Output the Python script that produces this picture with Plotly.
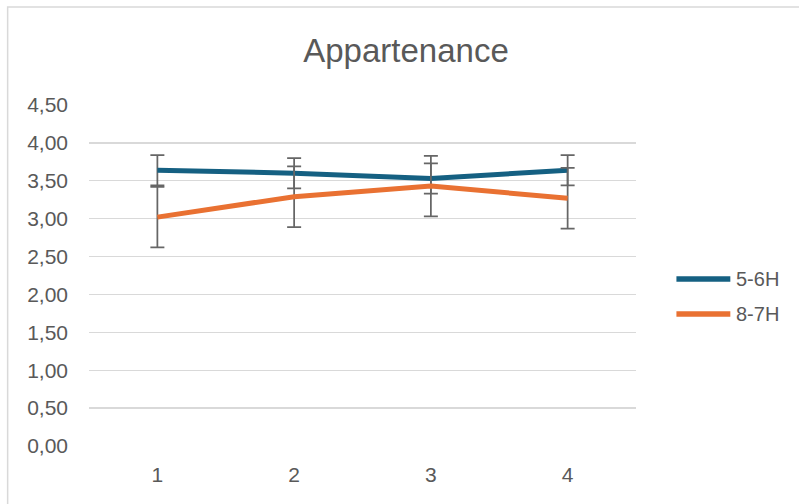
import plotly.graph_objects as go

categories = [1, 2, 3, 4]
tick_labels = ["1", "2", "3", "4"]
series_names = ["5-6H", "8-7H"]
blue_values = [3.64, 3.60, 3.53, 3.64]
blue_errors = [0.20, 0.20, 0.20, 0.20]
orange_values = [3.02, 3.29, 3.43, 3.27]
orange_errors = [0.40, 0.40, 0.40, 0.40]
y_ticks = [0, 0.5, 1, 1.5, 2, 2.5, 3, 3.5, 4, 4.5]
y_tick_labels = [f"{v:.2f}".replace(".", ",") for v in y_ticks]

colors = ["#156082", "#E97132"]
err_color = "#666666"
text_color = "#595959"
grid_color = "#D9D9D9"
FONT = "Liberation Sans, Arial, sans-serif"

W, H = 799, 504
ml, mr, mt, mb = 88.5, 162.5, 105, 58

fig = go.Figure()
for name, vals, errs, col in [(series_names[0], blue_values, blue_errors, colors[0]),
                              (series_names[1], orange_values, orange_errors, colors[1])]:
    fig.add_trace(go.Scatter(
        x=categories, y=vals, name=name, mode="lines",
        line=dict(color=col, width=5),
        error_y=dict(type="data", array=errs, visible=True, color=err_color,
                     thickness=1.75, width=7),
        showlegend=False,
    ))

pw = W - ml - mr
ph = H - mt - mb

def px_to_paper_x(px):
    return (px - ml) / pw

def px_to_paper_y(py):
    return (H - mb - py) / ph

shapes = []
annotations = []
# chart border
shapes.append(dict(type="rect", xref="paper", yref="paper",
                   x0=px_to_paper_x(7), x1=px_to_paper_x(W + 20),
                   y0=px_to_paper_y(H + 20), y1=px_to_paper_y(7),
                   line=dict(color=grid_color, width=1.5), fillcolor="rgba(0,0,0,0)", layer="below"))
# custom legend
for i, (name, col) in enumerate(zip(series_names, colors)):
    ly = 279 + i * 35
    shapes.append(dict(type="line", xref="paper", yref="paper",
                       x0=px_to_paper_x(677), x1=px_to_paper_x(731),
                       y0=px_to_paper_y(ly), y1=px_to_paper_y(ly),
                       line=dict(color=col, width=5.5)))
    annotations.append(dict(text=name, xref="paper", yref="paper",
                            x=px_to_paper_x(735), y=px_to_paper_y(ly),
                            xanchor="left", yanchor="middle", showarrow=False,
                            font=dict(family=FONT, size=20, color=text_color)))

fig.update_layout(
    width=W, height=H,
    margin=dict(l=ml, r=mr, t=mt, b=mb, pad=0),
    paper_bgcolor="white", plot_bgcolor="white",
    title=dict(text="Appartenance", x=406 / W, xref="container", xanchor="center",
               y=1 - 50 / H, yref="container", yanchor="middle",
               font=dict(family=FONT, size=33, color=text_color)),
    font=dict(family=FONT, color=text_color),
    shapes=shapes, annotations=annotations,
    showlegend=False,
)
fig.update_xaxes(range=[0.5, 4.5], tickvals=categories, ticktext=tick_labels,
                 showgrid=False, zeroline=False, showline=False, ticks="",
                 tickfont=dict(family=FONT, size=21, color=text_color),
                 ticklabelstandoff=14, fixedrange=True)
fig.update_yaxes(range=[0, 4.5], tickvals=y_ticks, ticktext=y_tick_labels,
                 showgrid=True, gridcolor=grid_color, gridwidth=1.3,
                 zeroline=False, showline=False, ticks="",
                 tickfont=dict(family=FONT, size=21, color=text_color),
                 ticklabelstandoff=20, fixedrange=True)

fig.write_html("out.html", config={"displayModeBar": False, "staticPlot": True},
               post_script="document.body.style.margin='0';document.body.style.padding='0';")
